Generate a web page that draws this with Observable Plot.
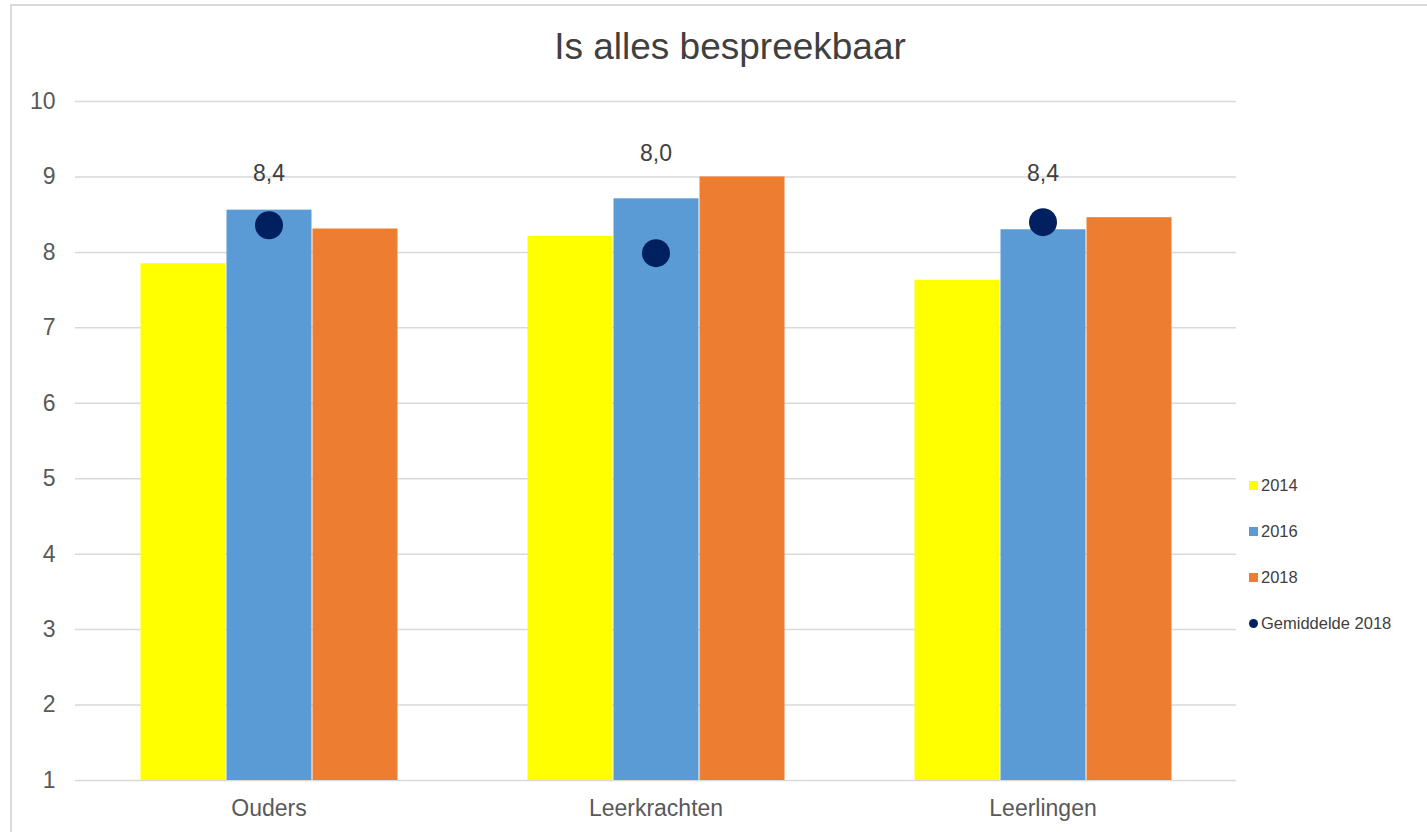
<!DOCTYPE html>
<html>
<head>
<meta charset="utf-8">
<script src="https://cdn.jsdelivr.net/npm/d3@7"></script>
<script src="https://cdn.jsdelivr.net/npm/@observablehq/plot@0.6"></script>
<style>
  body { margin: 0; background: #fff; font-family: "Liberation Sans", Arial, sans-serif; }
  #wrap { position: relative; width: 1427px; height: 832px; overflow: hidden; }
  #frame { position: absolute; left: 10px; top: 4px; width: 1440px; height: 860px; border: 2px solid #d9d9d9; box-sizing: border-box; pointer-events: none; }
  #title { position: absolute; top: 28px; left: 0; width: 1460px; text-align: center; font-size: 37px; line-height: 1; color: #404040; }
  #chart { position: absolute; left: 0; top: 0; }
  #legend { position: absolute; left: 1249px; top: 462px; font-size: 16.5px; color: #404040; }
  .item { display: flex; align-items: center; height: 46px; }
  .sw { width: 9px; height: 9px; margin-right: 3px; }
  .dot { border-radius: 50%; }
</style>
</head>
<body>
<div id="wrap">
  <div id="chart"></div>
  <div id="title"></div>
  <div id="legend"></div>
  <div id="frame"></div>
</div>
<script>
const title = "Is alles bespreekbaar";
const categories = ["Ouders", "Leerkrachten", "Leerlingen"];
const years = ["2014", "2016", "2018"];
const values2014 = [7.85, 8.21, 7.63];
const values2016 = [8.56, 8.71, 8.30];
const values2018 = [8.31, 9.00, 8.46];
const average2018 = [8.36, 7.99, 8.40];
const averageLabel = "Gemiddelde 2018";
const yTicks = [1, 2, 3, 4, 5, 6, 7, 8, 9, 10];
const colors = ["#FFFF00", "#5B9BD5", "#ED7D31"];
const avgColor = "#002060";

const seriesValues = [values2014, values2016, values2018];
const bars = [];
categories.forEach((c, i) => {
  years.forEach((y, j) => bars.push({category: c, year: y, value: seriesValues[j][i]}));
});
const avgs = categories.map((c, i) => ({category: c, value: average2018[i]}));
const labelDy = {Ouders: -52, Leerkrachten: -100, Leerlingen: -49};
const fmt = v => d3.format(".1f")(v).replace(".", ",");

document.getElementById("title").textContent = title;

const legend = document.getElementById("legend");
years.forEach((y, j) => {
  const it = document.createElement("div"); it.className = "item";
  it.innerHTML = `<span class="sw" style="background:${colors[j]}"></span><span>${y}</span>`;
  legend.appendChild(it);
});
{
  const it = document.createElement("div"); it.className = "item";
  it.innerHTML = `<span class="sw dot" style="background:${avgColor}"></span><span>${averageLabel}</span>`;
  legend.appendChild(it);
}

const chart = Plot.plot({
  width: 1427,
  height: 832,
  marginLeft: 75,
  marginRight: 191,
  marginTop: 101,
  marginBottom: 52,
  style: {fontFamily: "Liberation Sans, Arial, sans-serif", fontSize: "23px", color: "#595959", background: "transparent"},
  fx: {domain: categories, paddingInner: 0, paddingOuter: 0, label: null},
  x: {domain: years, paddingInner: 0, paddingOuter: 0.75, axis: null},
  y: {domain: [1, 10], axis: null, label: null},
  color: {domain: years, range: colors},
  marks: [
    Plot.ruleY(yTicks, {y: d => d, stroke: "#d9d9d9", strokeWidth: 1.5}),
    Plot.axisY({ticks: yTicks, tickSize: 0, tickPadding: 20, tickFormat: d => String(d), anchor: "left", label: null, fontSize: 23, fill: "#595959"}),
    Plot.barY(bars, {fx: "category", x: "year", y1: 1, y2: "value", fill: "year", insetRight: 0.5, insetLeft: 0.5}),
    Plot.dot(avgs, {fx: "category", y: "value", r: 14, fill: avgColor, stroke: null}),
    ...categories.map(c => Plot.text(avgs.filter(d => d.category === c), {fx: "category", y: "value", text: d => fmt(d.value), dy: labelDy[c], fontSize: 23, fill: "#404040"})),
    Plot.axisFx({anchor: "bottom", tickSize: 0, tickPadding: 19, fontSize: 23, fill: "#595959", label: null})
  ]
});
document.getElementById("chart").appendChild(chart);
</script>
</body>
</html>
